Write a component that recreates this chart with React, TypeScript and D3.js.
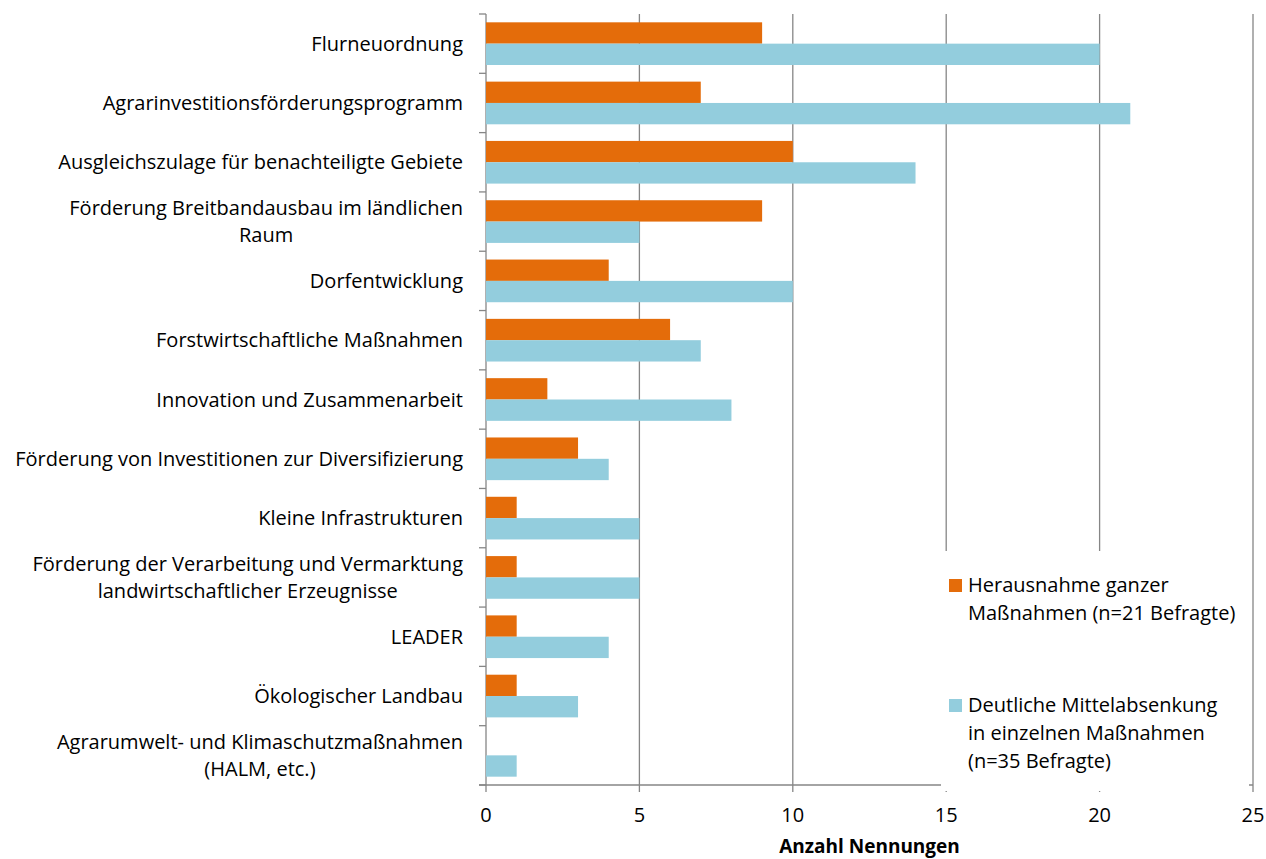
import React from "react";
import * as d3 from "d3";

const categories: string[][] = [
  ["Flurneuordnung"],
  ["Agrarinvestitionsförderungsprogramm"],
  ["Ausgleichszulage für benachteiligte Gebiete"],
  ["Förderung Breitbandausbau im ländlichen", "Raum"],
  ["Dorfentwicklung"],
  ["Forstwirtschaftliche Maßnahmen"],
  ["Innovation und Zusammenarbeit"],
  ["Förderung von Investitionen zur Diversifizierung"],
  ["Kleine Infrastrukturen"],
  ["Förderung der Verarbeitung und Vermarktung", "landwirtschaftlicher Erzeugnisse"],
  ["LEADER"],
  ["Ökologischer Landbau"],
  ["Agrarumwelt- und Klimaschutzmaßnahmen", "(HALM, etc.)"],
];

const herausnahme: number[] = [9, 7, 10, 9, 4, 6, 2, 3, 1, 1, 1, 1, 0];
const mittelabsenkung: number[] = [20, 21, 14, 5, 10, 7, 8, 4, 5, 5, 4, 3, 1];

const xTicks: number[] = [0, 5, 10, 15, 20, 25];

const seriesNames: string[][] = [
  ["Herausnahme ganzer", "Maßnahmen (n=21 Befragte)"],
  ["Deutliche Mittelabsenkung", "in einzelnen Maßnahmen", "(n=35 Befragte)"],
];
const seriesColors = ["#E46C0A", "#93CDDD"];
const axisTitle = "Anzahl Nennungen";

const W = 1266;
const H = 859;
const plot = { left: 486, right: 1253, top: 14, bottom: 785 };
const FONT = "'Open Sans', sans-serif";
const FS = 20;
const LABEL_RIGHT = 463;

// width of a string in the label font, used to centre wrapped labels
let ctx: CanvasRenderingContext2D | null = null;
function textWidth(s: string, size = FS): number {
  if (!ctx) ctx = document.createElement("canvas").getContext("2d");
  if (!ctx) return s.length * size * 0.5;
  ctx.font = `${size}px 'Open Sans', sans-serif`;
  return ctx.measureText(s).width;
}

export default function App() {
  const x = d3.scaleLinear().domain([0, 25]).range([plot.left, plot.right]);
  const y = d3
    .scaleBand<number>()
    .domain(d3.range(categories.length))
    .range([plot.top, plot.bottom]);
  const inner = d3
    .scaleBand<number>()
    .domain([0, 1])
    .range([0, y.bandwidth()])
    .paddingInner(0)
    .paddingOuter(0.39);
  const series = [herausnahme, mittelabsenkung];
  const gridColor = "#868686";
  const tickLen = 7;
  const boundaries = d3.range(categories.length + 1).map((i) => plot.top + i * y.step());
  const lineH = 27;

  return (
    <svg
      width={W}
      height={H}
      style={{ position: "absolute", left: 0, top: 0, background: "#fff" }}
      fontFamily={FONT}
    >
      <rect width={W} height={H} fill="#fff" />
      {/* vertical gridlines with their ticks below the axis */}
      {xTicks.map((t) => (
        <line
          key={"g" + t}
          x1={x(t)}
          x2={x(t)}
          y1={plot.top}
          y2={plot.bottom + tickLen}
          stroke={gridColor}
          strokeWidth={1.3}
        />
      ))}
      {/* category axis ticks */}
      {boundaries.map((b, i) => (
        <line
          key={"yt" + i}
          x1={plot.left - tickLen}
          x2={plot.left}
          y1={b}
          y2={b}
          stroke={gridColor}
          strokeWidth={1.3}
        />
      ))}
      <line
        x1={plot.left - tickLen}
        x2={plot.right}
        y1={plot.bottom}
        y2={plot.bottom}
        stroke={gridColor}
        strokeWidth={1.3}
      />
      {/* bars */}
      {series.map((vals, s) =>
        vals.map((v, i) => (
          <rect
            key={`b${s}-${i}`}
            x={x(0)}
            y={(y(i) as number) + (inner(s) as number)}
            width={x(v) - x(0)}
            height={inner.bandwidth()}
            fill={seriesColors[s]}
          />
        ))
      )}
      {/* category labels */}
      {categories.map((lines, i) => {
        const cy = (y(i) as number) + y.bandwidth() / 2;
        const y0 = cy - ((lines.length - 1) * lineH) / 2;
        const widest = Math.max(...lines.map((l) => textWidth(l)));
        const cx = LABEL_RIGHT - widest / 2;
        return (
          <text key={"c" + i} fontSize={FS} fill="#000">
            {lines.map((l, k) => (
              <tspan
                key={k}
                x={lines.length > 1 ? cx : LABEL_RIGHT}
                y={y0 + k * lineH}
                dy="0.35em"
                textAnchor={lines.length > 1 ? "middle" : "end"}
              >
                {l}
              </tspan>
            ))}
          </text>
        );
      })}
      {/* legend area */}
      <rect x={941} y={551} width={308} height={240} fill="#fff" />
      {seriesNames.map((lines, s) => {
        const top = s === 0 ? 592 : 712;
        return (
          <g key={"l" + s}>
            <rect x={949} y={top - 13} width={13} height={13} fill={seriesColors[s]} />
            {lines.map((l, k) => (
              <text key={k} x={968} y={top + k * 28} fontSize={FS} fill="#000">
                {l}
              </text>
            ))}
          </g>
        );
      })}
      {/* value axis labels */}
      {xTicks.map((t) => (
        <text key={"xl" + t} x={x(t)} y={822} textAnchor="middle" fontSize={FS} fill="#000">
          {t}
        </text>
      ))}
      <text
        x={(plot.left + plot.right) / 2}
        y={853}
        textAnchor="middle"
        fontSize={FS - 1}
        fontWeight="bold"
        fill="#000"
      >
        {axisTitle}
      </text>
    </svg>
  );
}
